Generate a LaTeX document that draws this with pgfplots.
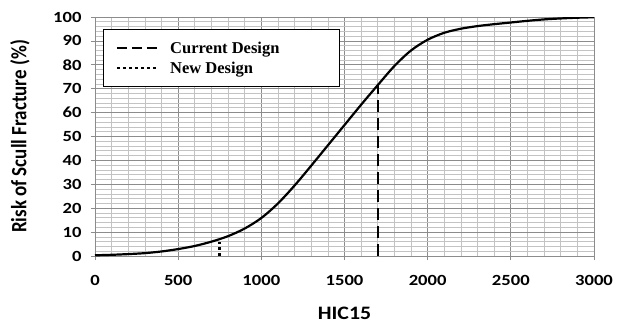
\documentclass[border=0pt]{standalone}
\usepackage{fontspec}
\setmainfont{Carlito}
\newfontfamily\tickfont{Carlito}[FakeStretch=1.2]
\newfontfamily\labfont{Carlito}[FakeStretch=1.15]
\newfontfamily\legfont{Liberation Serif}
\usepackage{pgfplots}
\pgfplotsset{compat=1.18}
\definecolor{majgrid}{RGB}{140,140,140}
\definecolor{mingrid}{RGB}{195,195,195}
\begin{document}
\begin{tikzpicture}
\path[use as bounding box] (-95pt,-69pt) rectangle (527pt,256pt);
\begin{axis}[
  at={(0,0)}, anchor=south west,
  scale only axis, width=499pt, height=239pt,
  xmin=0, xmax=3000, ymin=0, ymax=100,
  xtick={0,500,...,3000}, ytick={0,10,...,100},
  minor x tick num=4, minor y tick num=4,
  grid=both,
  major grid style={majgrid, line width=0.8pt},
  minor grid style={mingrid, line width=0.7pt},
  axis line style={majgrid, line width=0.8pt},
  tick style={majgrid, line width=0.8pt},
  tick align=outside, major tick length=4pt, minor tick length=0pt,
  xtick pos=bottom, ytick pos=left,
  /pgf/number format/assume math mode=true,
  /pgf/number format/1000 sep={},
  ticklabel style={font=\tickfont\bfseries\fontsize{15.5}{17}\selectfont, text=black},
  xticklabel style={yshift=-12pt},
  yticklabel style={xshift=-6pt},
  xlabel={HIC15},
  every axis x label/.style={at={(axis description cs:0.5,0)}, yshift=-57pt, anchor=center, font=\labfont\bfseries\fontsize{19}{21}\selectfont},
  ylabel={\scalebox{1}[1.15]{Risk of Scull Fracture (\%)}},
  every axis y label/.style={at={(axis description cs:0,0.5)}, xshift=-75pt, rotate=90, anchor=center, font=\bfseries\fontsize{19}{21}\selectfont},
  legend style={at={(axis description cs:0.016,0.95)}, anchor=north west, draw=black, line width=1.3pt, fill=white,
    font=\legfont\bfseries\fontsize{16.5}{18}\selectfont, inner xsep=12pt, inner ysep=10pt, row sep=3pt},
  legend cell align=left,
  legend image code/.code={\draw[#1] (0pt,0pt) -- (40pt,0pt);},
]
\addplot[black, line width=2.2pt, smooth, forget plot] coordinates {
(0,0.3) (100,0.5) (200,0.8) (300,1.2) (400,1.9) (500,2.9) (600,4.2) (700,6.0)
(800,8.3) (900,11.5) (1000,15.9) (1100,22) (1200,29.5) (1300,37.8) (1400,46.3)
(1500,54.8) (1600,63.3) (1700,71.5) (1800,79.5) (1900,86) (2000,90.5) (2100,93.4)
(2200,95.1) (2300,96.2) (2400,97.0) (2500,97.7) (2600,98.4) (2700,99.0) (2800,99.4)
(2900,99.7) (3000,99.9)};
\addplot[black, line width=2.4pt, dash pattern=on 12pt off 6pt, legend image post style={line width=1.6pt, dash pattern=on 10pt off 5pt}] coordinates {(1700,0) (1700,71.5)};
\addlegendentry{\makebox[165pt][l]{\hspace{10pt}Current Design}}
\addplot[black, line width=2.8pt, dash pattern=on 3pt off 3pt, legend image post style={line width=2.6pt, dash pattern=on 3pt off 3pt}] coordinates {(750,0) (750,6)};
\addlegendentry{\makebox[165pt][l]{\hspace{10pt}New Design}}
\end{axis}
\end{tikzpicture}
\end{document}
